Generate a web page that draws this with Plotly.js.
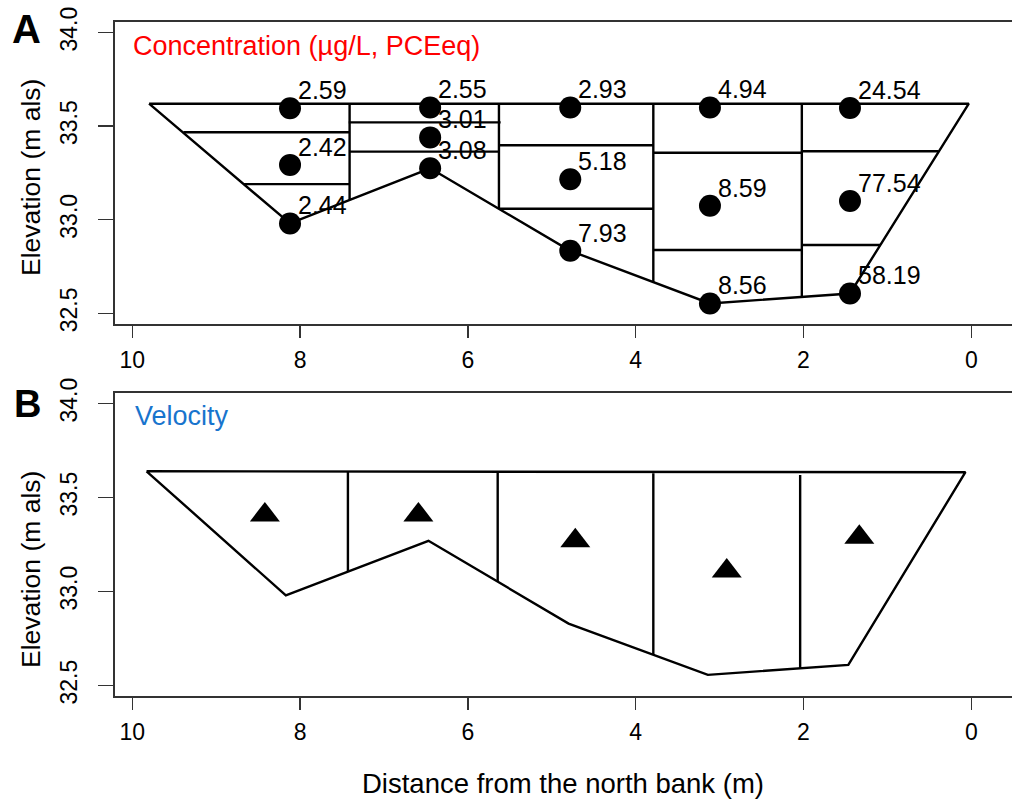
<!DOCTYPE html>
<html><head><meta charset="utf-8">
<script src="https://cdn.plot.ly/plotly-3.0.1.min.js"></script>
<style>html,body{margin:0;padding:0;background:#fff}#chart{width:1012px;height:805px}</style>
</head><body><div id="chart"></div>
<script>
// ---------- Panel A : concentration ----------
const outlineA_x = [9.80, 8.12, 6.45, 4.78, 3.115, 1.446, 0.03, 9.80];
const outlineA_y = [33.62, 32.98, 33.275, 32.834, 32.553, 32.606, 33.62, 33.62];
const dividerA_x = [7.41, 5.63, 3.79, 2.02];
const dividerA_top = [33.62, 33.62, 33.62, 33.62];
const dividerA_bottom = [33.105, 33.058, 32.667, 32.588];
const cellA_x0 = [9.39, 8.67, 7.42, 7.41, 5.63, 5.63, 3.79, 3.79, 2.02, 2.02];
const cellA_x1 = [7.41, 7.41, 5.61, 5.63, 3.79, 3.79, 2.02, 2.02, 0.39, 1.08];
const cellA_y  = [33.467, 33.19, 33.52, 33.364, 33.398, 33.059, 33.358, 32.838, 33.366, 32.865];
const sampleX = [8.12, 8.12, 8.12, 6.45, 6.45, 6.45, 4.78, 4.78, 4.78, 3.115, 3.115, 3.115, 1.446, 1.446, 1.446];
const sampleY = [33.596, 33.293, 32.98, 33.60, 33.44, 33.275, 33.60, 33.216, 32.834, 33.60, 33.075, 32.553, 33.597, 33.10, 32.606];
const concLabels = ["2.59", "2.42", "2.44", "2.55", "3.01", "3.08", "2.93", "5.18", "7.93", "4.94", "8.59", "8.56", "24.54", "77.54", "58.19"];

// ---------- Panel B : velocity ----------
const outlineB_x = [9.83, 8.17, 6.47, 4.80, 3.14, 1.466, 0.07, 9.83];
const outlineB_y = [33.64, 32.98, 33.27, 32.83, 32.557, 32.61, 33.635, 33.64];
const dividerB_x = [7.43, 5.645, 3.79, 2.04];
const dividerB_top = [33.638, 33.638, 33.63, 33.62];
const dividerB_bottom = [33.106, 33.057, 32.663, 32.593];
const velX = [8.42, 6.59, 4.72, 2.915, 1.335];
const velY = [33.408, 33.408, 33.27, 33.109, 33.289];

// ---------- axis ticks ----------
const xTicks = [0, 2, 4, 6, 8, 10];
const yTicks = [32.5, 33.0, 33.5, 34.0];
const yTickText = ["32.5", "33.0", "33.5", "34.0"];

const W = 1012, H = 805;
const fx = v => v / W;
const fy = v => 1 - v / H;
const FONT = "Liberation Sans, Arial, Helvetica, sans-serif";

function segs(x0, x1, y0, y1) {
  const X = [], Y = [];
  for (let i = 0; i < x0.length; i++) { X.push(x0[i], x1[i], null); Y.push(y0[i], y1[i], null); }
  return {X, Y};
}
const line = {color: '#000', width: 2.4};

const dA = segs(dividerA_x, dividerA_x, dividerA_top, dividerA_bottom);
const hA = segs(cellA_x0, cellA_x1, cellA_y, cellA_y);
const dB = segs(dividerB_x, dividerB_x, dividerB_top, dividerB_bottom);

const traces = [
  {x: outlineA_x, y: outlineA_y, mode: 'lines', line, xaxis: 'x', yaxis: 'y', hoverinfo: 'skip'},
  {x: dA.X, y: dA.Y, mode: 'lines', line, xaxis: 'x', yaxis: 'y', hoverinfo: 'skip'},
  {x: hA.X, y: hA.Y, mode: 'lines', line, xaxis: 'x', yaxis: 'y', hoverinfo: 'skip'},
  {x: sampleX, y: sampleY, mode: 'markers', marker: {symbol: 'circle', size: 22, color: '#000'}, xaxis: 'x', yaxis: 'y'},
  {x: outlineB_x, y: outlineB_y, mode: 'lines', line, xaxis: 'x2', yaxis: 'y2', hoverinfo: 'skip'},
  {x: dB.X, y: dB.Y, mode: 'lines', line, xaxis: 'x2', yaxis: 'y2', hoverinfo: 'skip'},
  {x: velX, y: velY, mode: 'markers', marker: {symbol: 'triangle-up', size: 26, color: '#000'}, xaxis: 'x2', yaxis: 'y2'}
];

const annotations = concLabels.map((t, i) => ({
  x: sampleX[i], y: sampleY[i], xref: 'x', yref: 'y', text: t, showarrow: false,
  xanchor: 'left', yanchor: 'middle', xshift: 6, yshift: 18,
  font: {family: FONT, size: 25, color: '#000'}
}));
function note(text, x, y, opts) {
  return Object.assign({text, x: fx(x), y: fy(y), xref: 'paper', yref: 'paper', showarrow: false,
    xanchor: 'center', yanchor: 'middle', font: {family: FONT, size: 26, color: '#000'}}, opts || {});
}
annotations.push(
  note('Concentration (µg/L, PCEeq)', 131, 46, {xanchor: 'left', font: {family: FONT, size: 27, color: '#ff0000'}}),
  note('Velocity', 133, 416, {xanchor: 'left', font: {family: FONT, size: 27, color: '#1874CD'}}),
  note('<b>A</b>', 26, 29, {font: {family: FONT, size: 40, color: '#000'}}),
  note('<b>B</b>', 27, 404, {font: {family: FONT, size: 38, color: '#000'}}),
  note('Elevation (m als)', 31, 178, {textangle: -90, font: {family: FONT, size: 26.5, color: '#000'}}),
  note('Elevation (m als)', 31, 570, {textangle: -90, font: {family: FONT, size: 26.5, color: '#000'}}),
  note('Distance from the north bank (m)', 563, 783, {font: {family: FONT, size: 27.5, color: '#000'}})
);

function xax(anchor) {
  return {domain: [fx(115.3), 1], range: [10.2026, -0.485], anchor,
    tickvals: xTicks, ticks: 'outside', ticklen: 12, tickwidth: 1.5, tickcolor: '#333',
    showline: true, linecolor: '#333', linewidth: 2, mirror: true,
    showgrid: false, zeroline: false, fixedrange: true, ticklabelstandoff: 2,
    tickfont: {family: FONT, size: 23, color: '#000'}};
}
function yax(anchor, top, bottom) {
  return {domain: [fy(bottom), fy(top)], range: [32.443, 34.058], anchor,
    tickvals: yTicks, ticktext: yTickText, tickangle: -90,
    ticks: 'outside', ticklen: 15, tickwidth: 1.5, tickcolor: '#333',
    showline: true, linecolor: '#333', linewidth: 2, mirror: false,
    showgrid: false, zeroline: false, fixedrange: true, ticklabelstandoff: 12,
    tickfont: {family: FONT, size: 23, color: '#000'}};
}

const layout = {
  width: W, height: H, margin: {l: 0, r: 0, t: 0, b: 0},
  paper_bgcolor: '#fff', plot_bgcolor: '#fff', showlegend: false,
  font: {family: FONT},
  xaxis: xax('y'), yaxis: yax('x', 21.7, 324),
  xaxis2: xax('y2'), yaxis2: yax('x2', 392.7, 696.3),
  annotations
};

Plotly.newPlot('chart', traces, layout, {staticPlot: true, displayModeBar: false});
</script>
</body></html>
